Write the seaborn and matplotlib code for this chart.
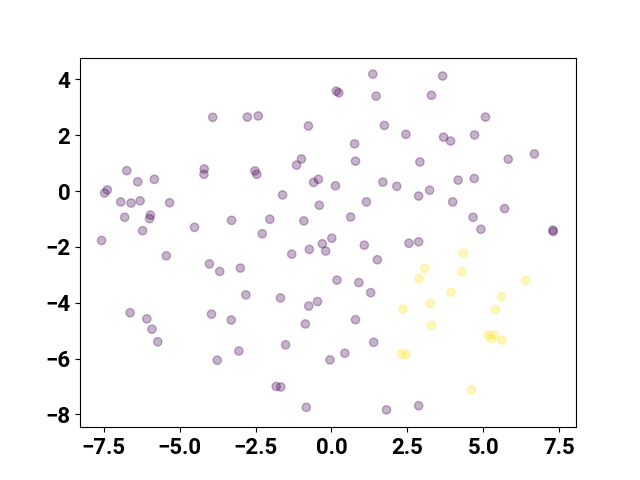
import numpy as np
import pandas as pd
import seaborn as sns
import matplotlib.pyplot as plt

# class 0 points (purple)
x_class0 = [-3.91, -2.77, -6.74, -6.38, -5.83, -4.19, -4.20, -7.38, -7.47, -6.94,
            -6.60, -6.30, -5.33, -6.81, -5.96, -5.99, -6.22, -4.51, -3.29, -7.57,
            1.36, 0.16, 0.24, 1.47, -2.41, -0.76, 1.74, 2.45, 0.76, -0.99,
            -1.15, 0.79, 2.91, -2.52, -2.46, -0.43, -0.59, 0.13, 1.69, 2.15,
            2.87, -1.61, -0.40, 1.15, -2.03, -0.91, 0.63, -2.28, 0.01, 3.66,
            3.29, 5.07, 3.69, 3.92, 4.71, 5.82, 6.68, 4.17, 4.70, 3.23,
            3.99, 5.70, 4.66, 4.92, 7.29, 7.30, 2.87, 2.55, -5.44, -4.02,
            -3.68, -3.00, -2.82, -6.63, -6.08, -5.91, -5.72, -3.95, -3.30, -3.05,
            -3.76, -0.30, -0.19, -0.73, -1.31, 1.08, 1.51, 0.18, 0.90, 1.29,
            -1.68, -0.75, -0.46, -0.86, 0.79, -1.51, 1.39, 0.44, -0.05, -1.82,
            -1.67, -0.83, 1.81, 2.87]
y_class0 = [2.64, 2.65, 0.73, 0.33, 0.42, 0.79, 0.60, 0.04, -0.07, -0.39,
            -0.43, -0.35, -0.42, -0.94, -0.86, -0.99, -1.42, -1.30, -1.05, -1.77,
            4.19, 3.58, 3.52, 3.40, 2.69, 2.33, 2.35, 2.03, 1.69, 1.15,
            0.93, 1.07, 1.04, 0.72, 0.60, 0.42, 0.31, 0.19, 0.32, 0.17,
            -0.18, -0.14, -0.51, -0.39, -1.01, -1.07, -0.93, -1.53, -1.69, 4.12,
            3.43, 2.65, 1.93, 1.79, 2.01, 1.14, 1.33, 0.39, 0.45, 0.03,
            -0.39, -0.63, -0.94, -1.37, -1.40, -1.45, -1.82, -1.87, -2.32, -2.61,
            -2.88, -2.76, -3.72, -4.36, -4.58, -4.95, -5.40, -4.41, -4.62, -5.73,
            -6.06, -1.89, -2.15, -2.09, -2.26, -1.94, -2.46, -3.19, -3.28, -3.64,
            -3.83, -4.12, -3.96, -4.76, -4.61, -5.51, -5.42, -5.81, -6.05, -7.00,
            -7.02, -7.75, -7.84, -7.69]

# class 1 points (yellow)
x_class1 = [2.88, 2.35, 2.30, 2.46, 4.34, 3.07, 4.29, 6.40, 3.93, 5.60,
            3.25, 5.40, 3.29, 5.16, 5.36, 5.26, 5.61, 4.60]
y_class1 = [-3.14, -4.23, -5.83, -5.86, -2.23, -2.77, -2.89, -3.21, -3.63, -3.79,
            -4.02, -4.25, -4.81, -5.16, -5.16, -5.28, -5.34, -7.13]

df = pd.DataFrame({
    "x": x_class0 + x_class1,
    "y": y_class0 + y_class1,
    "label": [0] * len(x_class0) + [1] * len(x_class1),
})

plt.rcParams["font.family"] = ["Roboto", "DejaVu Sans"]
plt.rcParams["font.weight"] = "bold"
plt.rcParams["font.size"] = 16

fig, ax = plt.subplots(figsize=(6.4, 4.8), dpi=100)
sns.scatterplot(data=df, x="x", y="y", hue="label",
                palette={0: "#440154", 1: "#fde725"},
                s=36, alpha=0.3, edgecolor="face", linewidth=1.0,
                legend=False, ax=ax)
ax.set_xlim(-8.28, 8.05)
ax.set_ylim(-8.46, 4.78)
ax.set_xlabel("")
ax.set_ylabel("")
fig.savefig("out.png", dpi=100)
